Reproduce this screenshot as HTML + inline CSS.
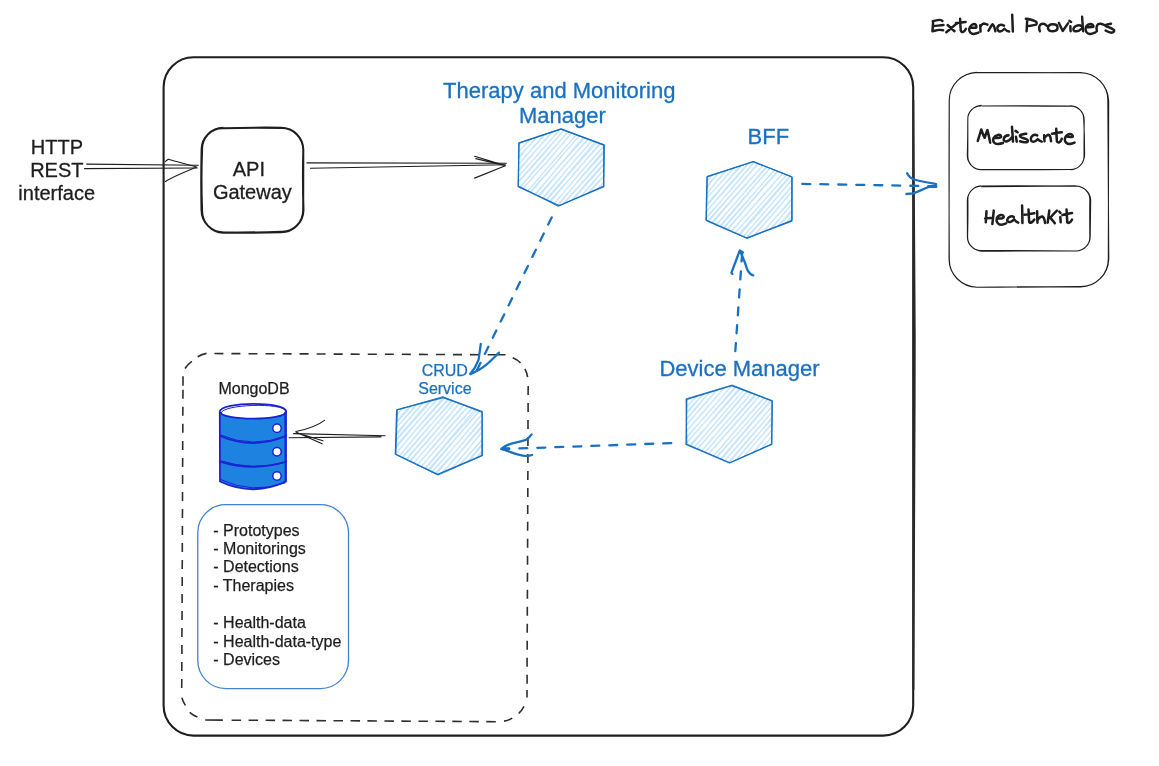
<!DOCTYPE html>
<html><head><meta charset="utf-8">
<style>
html,body{margin:0;padding:0;background:#fff;}
body{width:1159px;height:766px;overflow:hidden;}
svg{display:block;will-change:transform;}
text{font-family:"Liberation Sans",sans-serif;}
</style></head><body>
<svg width="1159" height="766" viewBox="0 0 1159 766">
<defs>
<pattern id="hach" patternUnits="userSpaceOnUse" width="4.4" height="4.4" patternTransform="rotate(-55)">
<rect width="4.4" height="4.4" fill="#eef7fe"/>
<rect x="0" y="0" width="4.4" height="1.6" fill="#bcdffb"/>
</pattern>
</defs>
<rect width="1159" height="766" fill="#fff"/>

<!-- main container -->
<rect x="163.6" y="57.3" width="749.6" height="678.3" rx="30" ry="30" fill="none" stroke="#1e1e1e" stroke-width="2.1"/>
<path d="M913.3 100 C914.4 200 915 300 914.6 400 C914.3 500 914 600 913.4 690" fill="none" stroke="#2a2a2a" stroke-width="2"/>

<!-- external providers -->
<!-- API gateway + external boxes (rough) -->
<path d="M223.2 128.2Q252.7 127.4 281.1 127.7C293.3 127.8 303.1 137.6 303.3 150.1Q302.5 179.5 303.5 210.2C303.1 222.5 293.3 232.3 281.4 231.7Q252.3 232.6 223.3 232.8C211.4 232.3 201.6 222.5 202.1 209.7Q200.9 180.1 202.1 149.7C201.6 137.6 211.4 127.8 223.3 127.7M224.1 128.3Q251.8 127.2 281.5 128.1C293.3 127.8 303.1 137.6 303.3 149.6Q303.3 180.2 303.2 209.9C303.1 222.5 293.3 232.3 281.0 232.2Q252.6 233.0 224.1 232.4C211.4 232.3 201.6 222.5 201.5 210.0Q200.9 179.5 201.6 149.6C201.6 137.6 211.4 127.8 223.5 128.3" fill="none" stroke="#1e1e1e" stroke-width="2"/>
<path d="M976.7 72.8Q1028.5 72.9 1080.4 72.4C1095.8 72.8 1108.3 85.3 1107.8 101.1Q1108.0 179.6 1108.8 258.9C1108.3 274.4 1095.8 286.9 1080.6 286.9Q1028.8 286.5 977.1 287.3C961.5 286.9 949.0 274.4 949.0 259.1Q949.2 179.4 949.3 100.9C949.0 85.3 961.5 72.8 976.8 72.3M976.7 72.4Q1028.5 72.4 1079.9 72.7C1095.8 72.8 1108.3 85.3 1108.7 101.1Q1108.6 179.6 1108.3 258.7C1108.3 274.4 1095.8 286.9 1080.0 286.5Q1028.4 287.4 977.3 287.2C961.5 286.9 949.0 274.4 949.3 258.6Q948.8 180.0 949.2 101.2C949.0 85.3 961.5 72.8 977.4 72.4" fill="none" stroke="#1e1e1e" stroke-width="1.05"/>
<path d="M981.6 105.9Q1026.1 106.2 1070.4 106.1C1077.9 105.7 1084.2 112.0 1083.7 119.7Q1084.7 137.8 1084.6 155.3C1084.2 163.4 1077.9 169.7 1070.2 169.4Q1025.9 169.8 981.0 169.4C973.8 169.7 967.5 163.4 967.3 156.1Q967.8 137.4 967.8 119.3C967.5 112.0 973.8 105.7 981.6 105.3M981.8 106.0Q1025.8 105.4 1069.7 105.9C1077.9 105.7 1084.2 112.0 1084.2 120.0Q1084.0 138.0 1084.0 156.0C1084.2 163.4 1077.9 169.7 1070.4 169.6Q1025.9 169.9 981.2 169.8C973.8 169.7 967.5 163.4 967.8 155.5Q967.9 137.9 967.8 119.5C967.5 112.0 973.8 105.7 981.1 106.0" fill="none" stroke="#1e1e1e" stroke-width="1.05"/>
<path d="M981.3 185.9Q1029.0 185.7 1076.2 186.1C1083.9 186.2 1090.2 192.5 1089.8 200.2Q1089.6 218.4 1089.8 236.4C1090.2 244.5 1083.9 250.8 1076.1 251.1Q1028.5 250.5 981.6 251.2C973.8 250.8 967.5 244.5 967.6 236.7Q968.1 218.0 967.9 200.0C967.5 192.5 973.8 186.2 981.1 185.8M981.2 186.7Q1028.5 186.4 1075.8 185.9C1083.9 186.2 1090.2 192.5 1090.7 199.9Q1090.4 218.5 1090.2 236.8C1090.2 244.5 1083.9 250.8 1075.9 251.1Q1028.4 250.5 981.0 250.6C973.8 250.8 967.5 244.5 967.4 237.2Q967.4 218.1 967.3 200.7C967.5 192.5 973.8 186.2 981.1 186.3" fill="none" stroke="#1e1e1e" stroke-width="1.05"/>


<!-- dashed container -->
<path fill="none" stroke="#2f2f2f" stroke-width="1.6" d="M214.4 353.5L223.4 353.6M231.4 353.6L240.4 353.6M248.5 353.7L257.5 353.7M265.5 353.8L274.5 353.8M282.6 353.8L291.6 353.9M299.6 353.9L308.6 353.9M316.6 354.0L325.6 354.0M333.7 354.1L342.7 354.1M350.7 354.1L359.7 354.2M367.8 354.2L376.8 354.2M384.8 354.3L393.8 354.3M401.8 354.3L410.8 354.4M418.9 354.4L427.9 354.5M435.9 354.5L444.9 354.5M453.0 354.6L462.0 354.6M470.0 354.6L479.0 354.7M487.7 354.7L505.5 354.8M528.2 386.0L528.1 395.0M528.1 403.0L528.1 412.0M528.0 420.0L528.0 429.0M528.0 436.9L527.9 445.9M527.9 453.9L527.9 462.9M527.9 470.9L527.8 479.9M527.8 487.9L527.8 496.9M527.7 504.9L527.7 513.9M527.7 521.8L527.6 530.8M527.6 538.8L527.6 547.8M527.5 555.8L527.5 564.8M527.5 572.8L527.4 581.8M527.4 589.8L527.4 598.8M527.3 606.7L527.3 615.7M527.3 623.7L527.2 632.7M527.2 640.7L527.2 649.7M527.1 657.7L527.1 666.7M527.1 674.7L527.1 683.7M527.0 690.0L527.0 697.6M495.8 721.7L486.3 721.6M478.8 721.6L469.3 721.5M461.8 721.5L452.3 721.4M444.9 721.4L435.4 721.3M427.9 721.3L418.4 721.2M410.9 721.2L401.4 721.1M393.9 721.1L384.4 721.0M376.9 721.0L367.4 720.9M360.0 720.9L350.5 720.8M343.0 720.8L333.5 720.7M326.0 720.7L316.5 720.6M309.0 720.6L299.5 720.5M292.0 720.5L282.5 720.4M275.1 720.4L265.6 720.3M258.1 720.3L248.6 720.2M241.1 720.2L231.6 720.2M222.9 720.1L205.2 720.0M183.0 376.3L183.0 385.7M183.0 389.8L182.9 398.8M182.9 406.8L182.8 415.8M182.8 423.8L182.8 432.8M182.7 440.9L182.7 449.9M182.7 457.9L182.6 466.9M182.6 474.9L182.6 483.9M182.5 491.9L182.5 500.9M182.5 508.9L182.4 517.9M182.4 526.0L182.4 535.0M182.3 543.0L182.3 552.0M182.3 560.0L182.2 569.0M182.2 577.0L182.2 586.0M182.1 594.0L182.1 603.0M182.1 611.1L182.0 620.1M182.0 628.1L181.9 637.1M181.9 645.1L181.9 654.1M181.8 662.1L181.8 671.1M181.8 679.1L181.7 688.1M185.0 368.5A24 24 0 0 1 191.9 361.4M197.7 356.7A24 24 0 0 1 206.6 353.4M512.7 357.8A24 24 0 0 1 520.5 362.8M524.9 368.9A24 24 0 0 1 527.6 377.2M524.0 706.4A24 24 0 0 1 518.7 713.4M512.3 718.1A24 24 0 0 1 504.0 721.1M197.4 717.0A24 24 0 0 1 189.7 712.3M185.4 705.4A24 24 0 0 1 181.9 697.6"/>

<!-- list box -->
<rect x="197.8" y="504.7" width="150.7" height="183.9" rx="28" fill="none" stroke="#3f83cf" stroke-width="1.3"/>

<!-- hexagons -->
<!--HACH-->
<g fill="none" stroke="#c6e5fd" stroke-width="1.3" stroke-linecap="round">
<path d="M518.3 145.6Q519.9 144.0 521.8 141.3M518.8 144.9Q520.5 143.0 521.4 141.9M518.4 152.0Q524.7 145.0 530.2 139.6M518.1 152.3Q524.0 146.4 529.2 138.9M519.2 157.5Q527.2 147.2 537.1 137.2M518.0 157.3Q527.6 147.6 536.5 137.3M518.7 164.2Q531.4 149.1 544.1 135.0M518.7 164.3Q531.8 149.0 545.0 134.9M517.9 170.3Q534.9 152.0 552.3 131.5M518.8 170.9Q535.2 150.5 552.0 132.6M518.5 176.8Q538.6 153.4 559.3 130.1M518.6 176.0Q539.6 153.1 559.7 129.8M517.9 182.7Q542.0 157.1 564.4 129.4M517.7 182.2Q541.1 156.0 564.5 129.6M520.3 186.6Q543.5 159.3 568.0 131.7M520.3 187.0Q544.5 160.0 568.0 131.4M522.9 188.6Q548.4 161.9 571.7 132.7M523.1 188.3Q547.8 161.3 572.0 132.9M527.6 190.9Q551.8 163.5 576.3 134.9M527.7 191.4Q551.0 163.4 576.6 134.5M531.3 191.9Q555.4 163.7 579.4 135.7M530.3 191.8Q555.0 164.1 579.6 135.5M535.4 194.6Q559.2 165.2 583.6 137.2M534.2 194.9Q559.2 165.8 584.9 137.6M537.9 195.9Q563.3 167.0 587.7 139.7M539.3 196.2Q562.8 166.9 587.6 139.2M543.1 198.5Q566.5 169.3 592.4 140.3M542.8 198.0Q567.0 168.7 592.6 140.4M546.9 200.2Q570.7 171.4 596.6 142.6M546.1 199.4Q571.5 170.5 595.4 141.4M550.2 202.2Q574.6 172.1 600.0 144.3M549.7 201.0Q575.8 173.3 599.7 143.1M554.3 203.7Q578.2 174.5 603.8 145.7M553.9 203.8Q579.2 173.7 604.3 145.9M557.9 204.7Q580.6 177.8 604.3 152.3M558.1 205.3Q580.4 178.1 603.3 151.0M564.4 203.1Q583.3 181.3 604.3 158.5M563.9 203.0Q584.1 180.4 603.0 158.4M573.0 199.9Q588.3 182.0 604.4 164.3M572.0 199.6Q587.6 181.5 603.9 163.4M581.4 196.2Q592.1 182.6 603.7 170.0M581.4 196.4Q592.9 183.0 603.9 169.9M588.6 192.1Q595.7 184.3 604.3 175.5M589.2 192.6Q596.4 184.8 603.8 176.1M597.6 188.9Q601.1 185.0 603.4 182.5M598.0 189.9Q600.7 185.8 603.7 182.3"/>
<path d="M706.8 180.5Q709.1 178.3 711.2 176.2M707.6 180.1Q709.4 178.6 711.3 176.2M706.2 186.6Q713.3 179.3 718.0 172.6M707.3 187.3Q712.1 180.1 718.1 173.4M707.3 193.7Q716.7 181.2 725.7 171.3M707.4 193.5Q716.2 181.7 725.6 170.4M706.0 198.9Q720.1 183.4 733.9 167.3M705.8 198.9Q720.1 183.5 733.8 168.1M706.9 206.2Q723.0 186.3 740.4 165.2M706.0 204.8Q723.0 186.0 740.9 166.3M705.7 212.3Q727.9 187.0 748.6 163.5M706.6 211.6Q726.7 186.7 747.8 163.8M705.5 218.5Q730.6 190.5 753.9 162.8M706.2 218.6Q730.3 189.8 754.2 161.6M708.0 220.7Q733.6 192.1 757.8 163.3M709.0 220.9Q733.3 192.2 758.5 163.2M712.0 222.1Q737.2 193.3 762.9 165.4M713.1 222.3Q737.0 194.1 763.0 165.2M716.1 224.6Q741.3 196.3 766.7 167.6M716.6 224.8Q741.1 196.2 766.3 166.6M719.4 226.6Q744.5 196.7 770.0 167.9M720.7 226.5Q744.6 197.9 770.0 168.0M723.4 227.8Q748.8 198.9 773.9 170.7M723.5 228.7Q749.9 199.0 774.0 169.8M727.7 229.6Q752.2 200.4 777.8 171.6M727.1 229.5Q752.2 200.2 777.5 170.8M731.8 231.3Q756.6 201.8 782.6 173.4M731.4 231.0Q757.3 202.8 783.0 172.5M734.7 233.5Q761.2 204.1 786.8 174.9M734.9 233.0Q761.2 204.3 786.2 175.2M739.4 235.3Q765.2 206.0 790.4 176.5M738.7 234.4Q764.3 204.7 789.5 176.8M743.3 236.6Q767.6 208.6 791.8 179.6M743.1 236.4Q767.9 208.8 792.1 179.7M746.4 237.6Q769.8 211.8 792.2 186.0M747.0 237.8Q769.8 213.0 791.8 186.8M755.2 234.3Q773.8 213.9 791.2 192.2M755.0 234.2Q773.8 213.4 791.1 192.2M763.1 231.6Q777.6 215.6 791.8 198.6M763.5 231.5Q777.3 214.7 792.6 199.3M771.3 229.7Q780.5 216.8 791.7 204.4M770.3 229.1Q780.8 217.6 791.2 204.8M779.2 226.0Q785.9 217.8 792.4 211.2M778.6 225.2Q784.8 219.0 791.0 210.8M786.0 222.7Q789.1 219.6 791.5 217.5M787.1 222.4Q788.4 220.4 792.5 217.3"/>
<path d="M396.4 416.4Q399.4 411.6 403.1 407.9M395.8 414.9Q399.6 411.5 403.5 407.8M396.0 421.9Q403.8 413.7 409.4 406.1M396.8 422.1Q403.8 414.7 410.5 407.0M395.4 428.6Q406.5 416.7 416.7 404.9M395.4 428.9Q406.7 416.0 416.2 404.5M396.4 435.3Q409.6 418.3 423.3 402.9M395.8 434.0Q409.5 418.7 423.1 402.2M395.3 441.5Q413.8 420.8 431.3 400.8M395.1 440.6Q412.6 420.3 429.9 400.4M396.2 447.5Q416.1 423.2 437.3 398.9M395.3 446.4Q416.5 422.9 437.0 399.8M395.6 454.0Q419.0 425.6 443.4 397.4M395.3 454.2Q419.2 425.4 444.4 398.3M399.1 456.3Q422.6 426.7 447.8 399.3M399.5 456.2Q422.5 427.2 448.4 400.0M402.0 457.5Q426.8 428.4 452.2 401.4M403.0 457.4Q427.6 429.3 452.0 399.9M406.9 459.5Q431.5 430.3 455.6 401.5M406.6 458.6Q430.7 430.9 455.2 402.2M409.6 461.2Q435.1 432.1 459.2 403.3M410.2 461.6Q434.9 433.0 459.9 403.2M414.1 462.5Q438.5 434.7 463.2 405.1M413.4 463.1Q439.1 433.8 464.6 404.6M417.4 464.9Q442.0 435.3 467.5 407.0M417.0 465.4Q443.1 435.6 467.7 407.0M421.6 466.1Q446.2 436.8 472.7 408.0M421.1 466.7Q446.1 436.8 472.7 407.4M425.7 467.6Q450.3 438.4 475.3 408.8M425.6 468.6Q450.3 439.5 476.8 410.1M429.4 470.4Q454.1 440.0 479.3 411.2M428.4 469.5Q454.2 440.3 479.3 410.6M431.8 472.6Q457.1 443.9 481.7 414.3M432.3 471.1Q457.8 443.7 482.2 414.4M436.0 474.2Q459.9 446.6 481.4 420.5M435.4 472.9Q459.7 447.6 481.5 421.3M443.4 471.8Q462.1 449.8 481.8 427.5M443.1 471.8Q462.7 449.1 481.8 426.0M451.4 469.3Q467.1 451.4 481.4 432.4M451.9 468.4Q466.6 451.4 481.8 432.7M459.1 465.5Q470.9 452.7 482.6 439.5M459.3 464.7Q471.3 452.1 482.0 439.4M468.4 461.0Q474.4 452.8 481.5 444.3M468.7 462.0Q475.2 453.0 483.0 444.7M476.3 458.2Q478.6 453.9 482.1 450.7M476.6 458.3Q479.1 454.7 482.8 451.4"/>
<path d="M686.8 400.5Q688.1 399.4 688.7 398.3M686.1 401.3Q687.1 399.4 688.5 398.5M686.6 406.5Q690.9 402.6 696.0 396.9M686.6 407.4Q691.9 401.1 696.1 397.3M685.9 412.6Q693.9 403.5 703.5 394.6M687.1 413.0Q695.3 403.6 702.4 394.9M686.6 419.5Q698.9 405.2 709.5 392.1M686.0 419.5Q697.6 405.3 710.2 391.8M686.6 425.0Q701.0 407.5 716.8 389.6M685.7 424.9Q702.2 407.9 716.9 390.2M685.7 432.0Q705.5 409.2 724.2 387.6M686.0 431.8Q705.0 410.5 724.1 387.8M686.0 437.4Q709.4 412.6 731.9 385.3M686.1 438.4Q708.0 412.5 731.3 386.4M685.3 444.2Q710.8 415.1 735.8 387.8M685.9 444.1Q710.2 415.8 735.0 386.8M689.2 445.9Q714.7 417.9 740.1 389.4M690.5 446.7Q714.2 416.7 739.6 387.9M694.3 447.7Q719.3 418.7 744.1 389.6M693.5 448.1Q719.1 418.4 744.1 389.6M697.6 449.0Q722.1 420.3 747.0 391.2M696.8 449.3Q722.9 421.1 748.0 390.9M701.6 451.0Q727.0 421.4 751.8 392.8M701.3 451.1Q726.4 422.1 751.5 393.0M705.2 452.1Q729.7 423.8 756.0 395.0M705.2 451.9Q730.4 423.1 755.0 394.5M709.1 453.5Q733.7 425.0 759.8 395.4M709.1 453.5Q734.7 425.6 759.6 395.9M713.5 456.6Q739.0 426.1 764.0 398.1M713.0 456.6Q737.8 427.5 764.3 397.0M716.1 457.3Q742.7 429.0 768.0 398.5M717.3 456.9Q742.9 427.9 767.6 399.7M720.7 458.9Q745.7 429.5 770.9 400.0M721.0 459.8Q745.6 430.6 771.1 401.0M724.8 460.6Q747.8 433.4 772.8 406.1M723.9 461.6Q748.5 434.0 772.4 405.8M729.2 462.6Q750.7 436.9 771.9 412.6M728.8 461.8Q750.2 436.8 772.7 411.8M735.7 460.6Q754.0 440.1 771.8 417.6M735.7 460.2Q753.1 438.8 772.1 419.0M744.4 455.8Q757.5 440.1 771.2 424.3M743.7 456.7Q757.4 440.3 772.1 424.1M752.2 453.4Q762.5 441.7 771.5 430.2M753.4 453.1Q761.7 441.9 771.7 430.4M761.5 448.6Q765.8 443.1 772.0 436.9M761.0 449.5Q767.3 443.3 771.1 437.0M769.4 445.5Q770.7 443.7 770.9 443.2M769.6 445.2Q771.6 443.5 771.7 443.4"/>
</g>
<!--/HACH-->
<g stroke="#1971c2" stroke-width="1.35" fill="none" stroke-linejoin="round">
<polygon points="561,129 519,143 518.2,186.6 559,205.7 603.8,186.6 603.8,145"/>
<polygon points="753.1,161.6 707,176.9 706.1,220.1 746.9,238 791.8,221 791.8,176.9"/>
<polygon points="443.2,397.5 396.7,409.8 395.4,454 437.6,474.3 482.2,455.4 482.2,411.7"/>
<polygon points="731.7,385.7 686.7,399.3 686.1,444.3 729.6,463 771.7,444.3 772.3,400.8"/>
</g>

<g stroke="#1971c2" stroke-width="1" fill="none" stroke-linejoin="round" opacity="0.85">
<polygon points="560.5,129.1 518.8,143.2 518.4,185.8 558.1,206.3 603.4,186.1 604.7,144.9"/>
<polygon points="753.7,161.6 707.3,176.3 706.3,220.8 746.9,238.4 792.1,220.2 792.3,177.1"/>
<polygon points="442.8,396.7 397.4,409.8 395.8,454.7 438.0,475.1 482.0,455.9 482.1,412.5"/>
<polygon points="732.4,385.0 686.0,398.8 686.9,444.2 729.8,462.6 771.7,444.1 772.0,401.0"/>
</g>

<!-- black arrows -->
<g stroke="#1e1e1e" stroke-width="1.15" fill="none" stroke-linecap="round" stroke-linejoin="round">
<path d="M86.7 164.1 L198.3 165.2 M84.5 168.6 L197.2 168"/>
<path d="M165.2 161.6 L168.2 159.2 C178 162 188 164.5 196.7 167 C186 171.5 174 176 165.4 181.5"/>
<path d="M306.9 162.8 L506.3 163.2 M310.5 168.2 L505.3 164.8"/>
<path d="M474.6 156.3 L505.3 165.6 M475.8 158.6 L503.5 165.2 M505.3 165.8 L474.6 178.1"/>
<path d="M385.1 435.7 L293.6 433.6 M381 436.9 L289.1 437.8"/>
<path d="M324.4 420.4 C318 425.5 306 429.5 295.9 431.5 L297.5 433.5 M295.9 432 L322.1 443.8 M298 433.2 L323 440.8"/>
</g>

<!-- blue dashed arrows -->
<g stroke="#1971c2" stroke-width="2.3" fill="none" stroke-linecap="round" stroke-linejoin="round">
<path d="M802.3 183.9 L936.3 186.2" stroke-dasharray="8 10"/>
<path d="M907.1 173.2 C909 177 911 178.5 914 179.5 C922 181.5 930 183 936.1 184.2 M936.1 186.9 L928.8 186.9 C922 189.5 918 192 913.3 193.3 L906.4 194"/>
<path d="M551.7 217.4 L475.5 373" stroke-dasharray="8 10"/>
<path d="M480.8 343.8 L478.6 359.6 C477 364 474 369.5 470.2 374.1 M499 352.6 C494 357.5 491 361 486.7 364.4 C481 369 476 372 470.2 374.1"/>
<path d="M735.3 351.2 L742.2 252.5" stroke-dasharray="8 10"/>
<path d="M732.4 273.9 L731.4 272.8 L739.8 250.4 L742.9 252.4 M739.8 250.6 C742 255 743.5 259 745 262.9 C746 266 747 269.5 748.1 271.2 C749.5 273.5 751 275 753.3 275.4"/>
<path d="M671.2 443.1 L501.2 449.1" stroke-dasharray="8 10"/>
<path d="M531.6 434.4 C529.5 437.5 527.5 439.3 525.3 440.2 C520 441.8 515 442.6 510.7 443.8 C507 445 504 446.8 501.8 448.5 L509 448.3 M501.8 448.8 C505 450 508 451 510.7 452.2 C515.5 454 519.5 455.5 524.3 455.8 C527 455.9 530 455.7 532.1 455"/>
</g>

<!-- cylinder -->
<g stroke="#1a22d4" stroke-width="1.8" stroke-linecap="round">
<path d="M219.8 411.6 L220 481.5 Q253 497 286 481.5 L286 411.6 Z" fill="#1e82e1"/>
<path d="M219.8 411.6 C221 401.5 285 401 286.2 411.6 C285 421 221 421 219.8 411.6 Z" fill="#fff"/>
<path d="M219.8 436 Q253 450 286.2 436 M219.8 461.6 Q253 472 286.2 461.6" fill="none"/>
<path d="M221 413 C222 404 283 402.5 285.5 410.5 M284.8 412 L285.2 482 M220.5 479.5 Q252 494.5 285 483 M220.5 435 Q253 449 286.8 435.5 M220.8 460.8 Q252 471 285.8 462.2" fill="none" stroke-width="1"/>
<circle cx="277" cy="428.3" r="4.2" fill="#fff" stroke-width="1.5"/>
<circle cx="277" cy="451.8" r="4.2" fill="#fff" stroke-width="1.5"/>
<circle cx="277" cy="476" r="4.2" fill="#fff" stroke-width="1.5"/>
</g>

<!-- texts -->
<g fill="#1e1e1e" stroke="#1e1e1e" stroke-width="0.3" font-size="20">
<text x="56.9" y="153.8" text-anchor="middle">HTTP</text>
<text x="56.8" y="176.7" text-anchor="middle">REST</text>
<text x="56.7" y="199.5" text-anchor="middle">interface</text>
<text x="248.9" y="175.7" text-anchor="middle">API</text>
<text x="252.35" y="198.7" text-anchor="middle">Gateway</text>
</g>
<g fill="#1971c2" stroke="#1971c2" stroke-width="0.3" font-size="22">
<text x="559.3" y="98.3" text-anchor="middle">Therapy and Monitoring</text>
<text x="562.3" y="123.1" text-anchor="middle">Manager</text>
<text x="768.3" y="143.8" text-anchor="middle">BFF</text>
<text x="739.5" y="375.8" text-anchor="middle">Device Manager</text>
</g>
<g fill="#1971c2" stroke="#1971c2" stroke-width="0.25" font-size="16">
<text x="444.8" y="375.5" text-anchor="middle">CRUD</text>
<text x="444.9" y="393.8" text-anchor="middle">Service</text>
</g>
<g fill="none" stroke="#1e1e1e" stroke-linecap="round" stroke-linejoin="round">
<g transform="translate(928,14) scale(0.07937)" stroke-width="31">
<path d="M60,91 C90,85 120,76 143,74 C160,73 175,78 182,87 M65,91 C62,130 59,175 56,217 M69,152 C110,148 160,142 195,139 M56,217 C90,210 120,202 143,200 C160,199 178,202 191,204"/>
<path d="M247,139 L334,217 M230,230 C270,200 320,150 369,117"/>
<path d="M352,113 C390,108 430,103 474,100 M404,61 C406,110 409,160 413,209 C416,225 430,228 439,226 C455,222 470,205 478,187"/>
<path d="M531,170 C560,172 600,172 610,170 C612,140 600,126 584,126 C555,128 525,160 518,191 C515,225 545,252 575,252 C600,250 620,242 636,235"/>
<path d="M658,143 L662,222 M662,157 C675,135 690,120 701,120 C720,122 735,128 749,135"/>
<path d="M762,209 C780,180 800,140 814,130 C830,140 842,185 849,217"/>
<path d="M958,147 C940,138 925,135 908,137 C885,145 872,165 874,182 C878,210 895,222 908,221 C930,218 950,200 963,186 C980,205 1000,218 1022,221"/>
<path d="M1061,9 C1064,80 1066,150 1069,221"/>
</g>
<g transform="translate(1015,14) scale(0.09058)" stroke-width="27">
<path d="M135,57 C133,100 130,150 128,190 M120,53 C140,55 160,58 170,61 C200,70 230,80 238,91 C242,105 240,115 234,118 C210,125 185,128 170,130 L139,133"/>
<path d="M274,190 C270,175 266,165 267,152 C268,135 275,120 284,114 C295,108 305,106 314,107 C330,110 342,120 352,130"/>
<path d="M417,114 C380,114 362,135 364,155 C366,180 395,190 420,190 C450,190 470,175 470,150 C470,125 445,114 417,114"/>
<path d="M485,99 L527,187 L585,103"/>
<path d="M600,76 L620,88 M611,134 L614,191"/>
<path d="M735,135 C700,110 645,140 645,170 C645,200 700,200 738,160 M741,31 C745,90 748,140 752,190"/>
<path d="M794,145 C820,146 850,146 866,141 C870,120 850,110 832,110 C800,115 780,140 779,164 C780,200 805,221 828,221 C850,220 870,210 889,202"/>
<path d="M904,190 C902,175 900,165 900,152 C902,135 908,120 916,114 C925,108 935,106 946,107 C965,110 980,118 996,126"/>
<path d="M1060,107 C1035,110 1010,115 1000,122 C1000,135 1010,140 1022,141 C1050,150 1080,165 1095,179 C1098,195 1085,205 1068,206 C1045,206 1020,195 1000,183"/>
</g>
<g transform="translate(972,124) scale(0.09319)" stroke-width="27">
<path d="M62,181 C75,140 90,90 99,59 C110,90 125,130 136,148 C145,120 155,90 166,65 C178,110 188,160 195,200"/>
<path d="M243,148 C270,150 320,150 312,130 C305,108 255,110 232,150 C215,190 245,218 280,214 C305,212 320,208 332,204"/>
<path d="M392,122 C365,122 345,135 340,165 C338,185 360,190 377,185 C400,178 420,155 429,141 M429,30 C433,80 437,140 440,189"/>
<path d="M467,74 L489,89 M472,137 L480,189"/>
<path d="M582,104 C560,108 530,112 515,122 C510,140 530,145 545,150 C570,158 600,165 600,180 C598,200 560,202 515,185"/>
<path d="M700,122 C685,115 665,115 650,125 C630,140 625,170 640,185 C665,200 690,180 704,163 C715,175 730,185 748,189"/>
<path d="M774,122 L778,185 M774,155 C790,135 805,115 818,115 C835,120 842,140 844,155 L848,185"/>
<path d="M904,52 C906,100 908,150 911,185 C915,200 930,198 937,196 C950,190 958,175 963,159 M859,104 C890,98 930,92 963,89"/>
<path d="M1026,137 C1045,138 1070,140 1081,137 C1085,118 1065,105 1048,107 C1020,112 1000,140 996,163 C995,195 1020,215 1048,215 C1070,213 1090,205 1100,200"/>
</g>
<g transform="translate(980,204) scale(0.08628)" stroke-width="29">
<path d="M75,84 C73,130 70,170 67,212 M159,76 C155,130 148,190 143,232 M59,168 L151,160"/>
<path d="M199,168 C230,170 280,172 275,145 C270,120 215,120 195,165 C180,210 215,242 250,240 C275,238 295,230 303,224"/>
<path d="M392,150 C370,135 335,145 322,170 C308,195 320,212 350,208 C370,205 385,190 395,176 C410,195 425,210 443,216"/>
<path d="M488,18 C490,80 491,150 492,220"/>
<path d="M562,64 C565,110 567,160 570,208 C572,225 600,225 630,180 M514,124 L630,106"/>
<path d="M662,84 C663,130 664,175 666,216 M666,188 C680,165 700,144 723,144 C745,150 750,190 755,220"/>
<path d="M803,76 C798,120 790,170 785,216 M891,76 C860,105 835,135 815,160 C835,180 850,200 867,222"/>
<path d="M919,88 L933,102 M931,152 L935,212"/>
<path d="M1003,64 C1006,110 1009,160 1011,208 C1014,225 1040,228 1067,180 M955,128 C990,118 1030,108 1067,104"/>
</g>
</g>
<g fill="#1e1e1e" stroke="#1e1e1e" stroke-width="0.25" font-size="16">
<text x="254" y="393.5" text-anchor="middle">MongoDB</text>
<text x="213.3" y="535.9">- Prototypes</text>
<text x="213.3" y="554.1">- Monitorings</text>
<text x="213.3" y="572.4">- Detections</text>
<text x="213.3" y="590.7">- Therapies</text>
<text x="213.3" y="627.8">- Health-data</text>
<text x="213.3" y="646.8">- Health-data-type</text>
<text x="213.3" y="664.6">- Devices</text>
</g>
</svg>
</body></html>
